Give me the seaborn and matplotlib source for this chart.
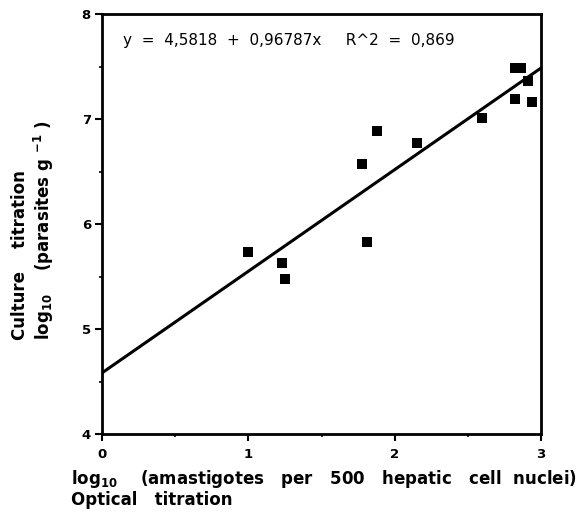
import matplotlib
matplotlib.use("Agg")
import matplotlib.pyplot as plt
import seaborn as sns
import pandas as pd
import numpy as np
from matplotlib.ticker import MultipleLocator

# Data
optical_log10 = [1.00, 1.23, 1.25, 1.78, 1.81, 1.88, 2.15, 2.60, 2.82, 2.86, 2.91, 2.82, 2.94]
culture_log10 = [5.73, 5.63, 5.48, 6.57, 5.83, 6.89, 6.77, 7.01, 7.49, 7.49, 7.36, 7.19, 7.16]
intercept = 4.5818
slope = 0.96787
r_squared = 0.869
x_ticks = [0, 1, 2, 3]
y_ticks = [4, 5, 6, 7, 8]

sns.set_style("ticks")
plt.rcParams["font.family"] = ["DejaVu Sans"]
plt.rcParams["mathtext.fontset"] = "dejavusans"
plt.rcParams["mathtext.default"] = "bf"
for key in ["text.color", "axes.labelcolor", "xtick.color", "ytick.color", "axes.edgecolor"]:
    plt.rcParams[key] = "black"

df = pd.DataFrame({"x": optical_log10, "y": culture_log10})
line_x = np.array([x_ticks[0], x_ticks[-1]], dtype=float)
line_df = pd.DataFrame({"x": line_x, "y": intercept + slope * line_x})

fig = plt.figure(figsize=(5.8, 5.12), dpi=100)
ax = fig.add_axes([102 / 580, 1 - 434 / 512, 439 / 580, 420 / 512])

sns.lineplot(data=line_df, x="x", y="y", ax=ax, color="black", linewidth=2.2)
sns.scatterplot(data=df, x="x", y="y", ax=ax, marker="s", s=45,
                color="black", edgecolor="black", linewidth=0, zorder=3)

ax.set_xlim(x_ticks[0], x_ticks[-1])
ax.set_ylim(y_ticks[0], y_ticks[-1])
ax.set_xticks(x_ticks)
ax.set_yticks(y_ticks)
ax.xaxis.set_minor_locator(MultipleLocator(0.5))
ax.yaxis.set_minor_locator(MultipleLocator(0.5))
ax.tick_params(which="major", direction="out", length=5, width=1.5, labelsize=9.5, pad=3)
ax.tick_params(axis="x", which="major", pad=5)
ax.tick_params(which="minor", direction="out", length=2.5, width=1.2)
for lab in ax.get_xticklabels() + ax.get_yticklabels():
    lab.set_fontweight("bold")

for sp in ax.spines.values():
    sp.set_visible(True)
    sp.set_linewidth(2)
    sp.set_color("black")

ax.set_xlabel("log$_{10}$    (amastigotes   per   500   hepatic   cell  nuclei)\nOptical   titration",
              fontsize=12, fontweight="bold", ha="left", va="top", multialignment="left",
              linespacing=1.05)
ax.xaxis.set_label_coords(-0.0706, -0.081)

ax.set_ylabel("Culture    titration\nlog$_{10}$    (parasites g $^{-1}$ )",
              fontsize=12, fontweight="bold", ha="left", multialignment="left",
              linespacing=1.2)
ax.yaxis.set_label_coords(-0.104, 0.224)

ax.text(0.047, 0.936,
        f"y  =  {intercept:.4f}".replace(".", ",") + f"  +  {slope:.5f}x".replace(".", ",")
        + f"     R^2  =  {r_squared:.3f}".replace(".", ","),
        transform=ax.transAxes, fontsize=11, ha="left", va="center")

fig.savefig("out.png", dpi=100)
